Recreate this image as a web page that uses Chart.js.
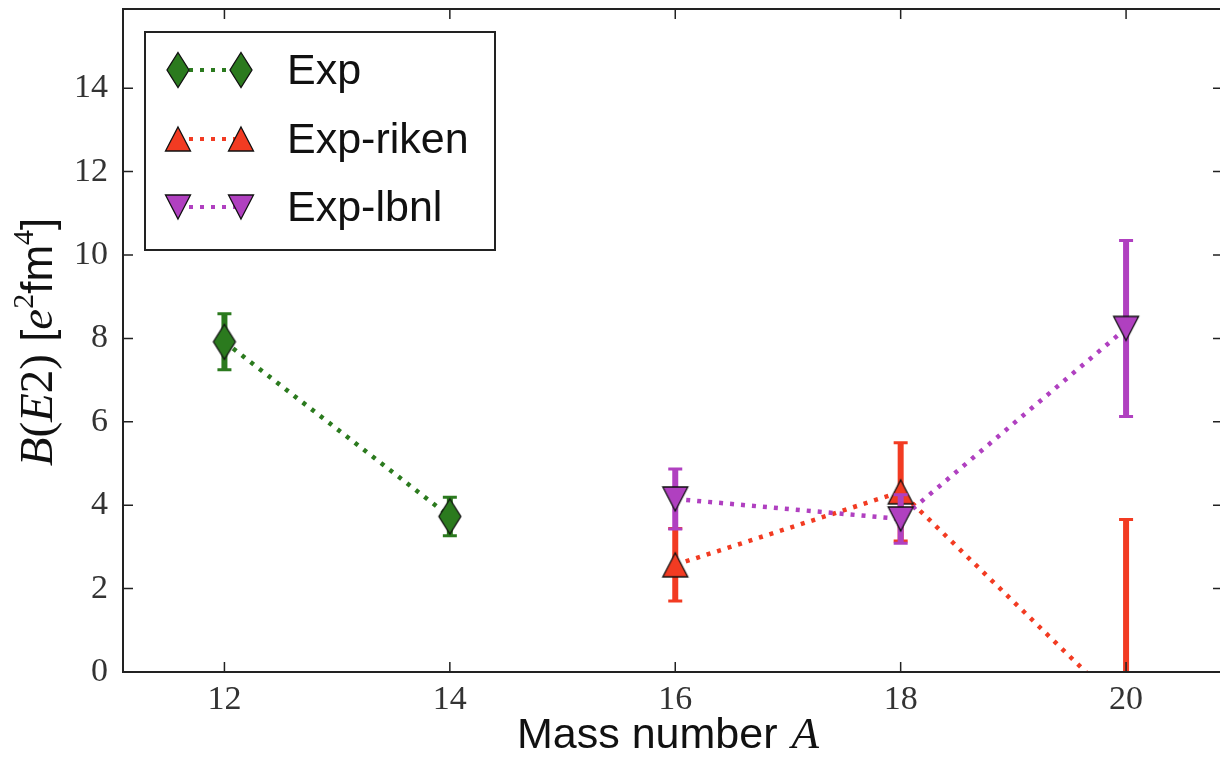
<!DOCTYPE html>
<html>
<head>
<meta charset="utf-8">
<script src="https://cdn.jsdelivr.net/npm/chart.js@4.4.1/dist/chart.umd.min.js"></script>
<style>
  html, body { margin: 0; padding: 0; background: #fff; overflow: hidden; }
  #wrap { width: 1234px; height: 757px; }
</style>
</head>
<body>
<div id="wrap"><canvas id="be2Chart" width="1234" height="757"></canvas></div>
<script>
// data
const massExp = [12, 14];
const be2Exp = [7.92, 3.73];
const errExp = [0.67, 0.46];

const massRiken = [16, 18, 20];
const be2Riken = [2.57, 4.32, -0.94];
const errRiken = [0.87, 1.18, 4.6];

const massLbnl = [16, 18, 20];
const be2Lbnl = [4.15, 3.67, 8.24];
const errLbnl = [0.72, 0.58, 2.11];

const xTicks = [12, 14, 16, 18, 20];
const yTicks = [0, 2, 4, 6, 8, 10, 12, 14];

const seriesNames = ['Exp', 'Exp-riken', 'Exp-lbnl'];
const seriesColors = ['#2b7a1e', '#f23b22', '#b040c0'];

// marker images (matplotlib-like thin diamond / triangles)
function makeMarker(kind, color) {
    const c = document.createElement('canvas');
    c.width = 30; c.height = 40;
    const g = c.getContext('2d');
    g.translate(15, 20);
    g.beginPath();
    if (kind === 'diamond') {
        g.moveTo(0, -17.5); g.lineTo(11, 0); g.lineTo(0, 17.5); g.lineTo(-11, 0);
    } else if (kind === 'up') {
        g.moveTo(0, -12); g.lineTo(12.5, 12); g.lineTo(-12.5, 12);
    } else {
        g.moveTo(0, 12); g.lineTo(12.5, -12); g.lineTo(-12.5, -12);
    }
    g.closePath();
    g.fillStyle = color;
    g.fill();
    g.lineWidth = 1.3;
    g.strokeStyle = '#111';
    g.stroke();
    return c;
}

const markers = [
    makeMarker('diamond', seriesColors[0]),
    makeMarker('up', seriesColors[1]),
    makeMarker('down', seriesColors[2])
];
const errors = [errExp, errRiken, errLbnl];

function toPoints(xs, ys) {
    return xs.map((x, i) => ({ x: x, y: ys[i] }));
}

const dotted = [4, 7];

// error bars, ticks, frame, axis titles and legend
const decorPlugin = {
    id: 'decor',
    beforeDatasetDraw(chart, args) {
        const i = args.index;
        const ds = chart.data.datasets[i];
        const xs = chart.scales.x, ys = chart.scales.y;
        const a = chart.chartArea;
        const ctx = chart.ctx;
        ctx.save();
        ctx.beginPath();
        ctx.rect(a.left, a.top, a.right - a.left, a.bottom - a.top);
        ctx.clip();
        ctx.strokeStyle = seriesColors[i];
        ds.data.forEach((p, k) => {
            const e = errors[i][k];
            const px = xs.getPixelForValue(p.x);
            const top = ys.getPixelForValue(p.y + e);
            const bot = ys.getPixelForValue(p.y - e);
            ctx.lineWidth = 6;
            ctx.beginPath();
            ctx.moveTo(px, top); ctx.lineTo(px, bot);
            ctx.stroke();
            ctx.lineWidth = 3;
            ctx.beginPath();
            ctx.moveTo(px - 7, top); ctx.lineTo(px + 7, top);
            ctx.moveTo(px - 7, bot); ctx.lineTo(px + 7, bot);
            ctx.stroke();
        });
        ctx.restore();
    },
    afterDraw(chart) {
        const ctx = chart.ctx;
        const a = chart.chartArea;
        const xs = chart.scales.x, ys = chart.scales.y;
        ctx.save();

        // frame
        ctx.strokeStyle = '#222';
        ctx.lineWidth = 2;
        ctx.strokeRect(a.left, a.top, a.right - a.left, a.bottom - a.top);

        // inward ticks on all sides
        ctx.lineWidth = 1.5;
        ctx.beginPath();
        xTicks.forEach(v => {
            const px = xs.getPixelForValue(v);
            ctx.moveTo(px, a.bottom); ctx.lineTo(px, a.bottom - 10);
            ctx.moveTo(px, a.top); ctx.lineTo(px, a.top + 10);
        });
        yTicks.forEach(v => {
            const py = ys.getPixelForValue(v);
            ctx.moveTo(a.left, py); ctx.lineTo(a.left + 10, py);
            ctx.moveTo(a.right, py); ctx.lineTo(a.right - 10, py);
        });
        ctx.stroke();

        // x axis title: Mass number A
        ctx.fillStyle = '#111';
        ctx.textBaseline = 'alphabetic';
        const sansFont = '43px "Liberation Sans", Arial, sans-serif';
        const italFont = 'italic 45px "Liberation Serif", serif';
        ctx.font = sansFont;
        const w1 = ctx.measureText('Mass number ').width;
        let x0 = 517;
        ctx.textAlign = 'left';
        ctx.fillText('Mass number ', x0, 748);
        ctx.font = italFont;
        ctx.fillText('A', x0 + w1 + 2, 748);

        // y axis title: B(E2) [e^2 fm^4]
        const parts = [
            ['B', 'italic 47px "Liberation Serif", serif', 0],
            ['(', '47px "Liberation Serif", serif', 0],
            ['E', 'italic 47px "Liberation Serif", serif', 0],
            ['2)', '47px "Liberation Serif", serif', 0],
            [' [', '44px "Liberation Sans", sans-serif', 0],
            ['e', 'italic 47px "Liberation Serif", serif', 0],
            ['2', '30px "Liberation Serif", serif', -19],
            ['fm', '44px "Liberation Sans", sans-serif', 0],
            ['4', '30px "Liberation Serif", serif', -19],
            [']', '44px "Liberation Sans", sans-serif', 0]
        ];
        let total = 0;
        parts.forEach(p => { ctx.font = p[1]; total += ctx.measureText(p[0]).width; });
        ctx.save();
        ctx.translate(52, 342);
        ctx.rotate(-Math.PI / 2);
        let cx = -total / 2;
        parts.forEach(p => {
            ctx.font = p[1];
            ctx.fillText(p[0], cx, p[2]);
            cx += ctx.measureText(p[0]).width;
        });
        ctx.restore();

        // legend
        const lx = 145, ly = 32, lw = 350, lh = 218;
        ctx.fillStyle = '#fff';
        ctx.fillRect(lx, ly, lw, lh);
        ctx.strokeStyle = '#222';
        ctx.lineWidth = 2;
        ctx.strokeRect(lx, ly, lw, lh);
        const rows = [70, 139, 207];
        rows.forEach((ry, i) => {
            ctx.strokeStyle = seriesColors[i];
            ctx.lineWidth = 4;
            ctx.setLineDash(dotted);
            ctx.beginPath();
            ctx.moveTo(178, ry); ctx.lineTo(241, ry);
            ctx.stroke();
            ctx.setLineDash([]);
            const m = markers[i];
            ctx.drawImage(m, 178 - m.width / 2, ry - m.height / 2);
            ctx.drawImage(m, 241 - m.width / 2, ry - m.height / 2);
            ctx.fillStyle = '#111';
            ctx.font = sansFont;
            ctx.textBaseline = 'middle';
            ctx.fillText(seriesNames[i], 287, ry + 2);
        });
        ctx.restore();
    }
};

function makeDataset(i, xs, ys, order) {
    return {
        label: seriesNames[i],
        data: toPoints(xs, ys),
        borderColor: seriesColors[i],
        backgroundColor: seriesColors[i],
        borderWidth: 4.5,
        borderDash: dotted,
        borderCapStyle: 'butt',
        pointStyle: markers[i],
        pointRadius: 12,
        pointHoverRadius: 12,
        showLine: true,
        tension: 0,
        order: order
    };
}

function noPadding(s) {
    s.paddingTop = 0;
    s.paddingBottom = 0;
    s.paddingLeft = 0;
    s.paddingRight = 0;
}

new Chart(document.getElementById('be2Chart'), {
    type: 'scatter',
    data: {
        datasets: [
            makeDataset(0, massExp, be2Exp, 3),
            makeDataset(1, massRiken, be2Riken, 2),
            makeDataset(2, massLbnl, be2Lbnl, 1)
        ]
    },
    options: {
        responsive: false,
        animation: false,
        devicePixelRatio: 1,
        layout: { autoPadding: false, padding: { top: 9, right: 11, left: 0, bottom: 0 } },
        plugins: {
            legend: { display: false },
            tooltip: { enabled: false }
        },
        scales: {
            x: {
                type: 'linear',
                min: 11.1,
                max: 20.86,
                grid: { display: false, drawTicks: false },
                border: { display: false },
                afterBuildTicks: s => { s.ticks = xTicks.map(v => ({ value: v })); },
                afterFit: s => { s.height = 85; noPadding(s); },
                ticks: {
                    color: '#333',
                    padding: 8,
                    maxRotation: 0,
                    font: { family: '"Liberation Serif", serif', size: 34 }
                }
            },
            y: {
                type: 'linear',
                min: 0,
                max: 15.9,
                grid: { display: false, drawTicks: false },
                border: { display: false },
                afterBuildTicks: s => { s.ticks = yTicks.map(v => ({ value: v })); },
                afterFit: s => { s.width = 123; noPadding(s); },
                ticks: {
                    color: '#333',
                    padding: 15,
                    font: { family: '"Liberation Serif", serif', size: 34 }
                }
            }
        }
    },
    plugins: [decorPlugin]
});
</script>
</body>
</html>
